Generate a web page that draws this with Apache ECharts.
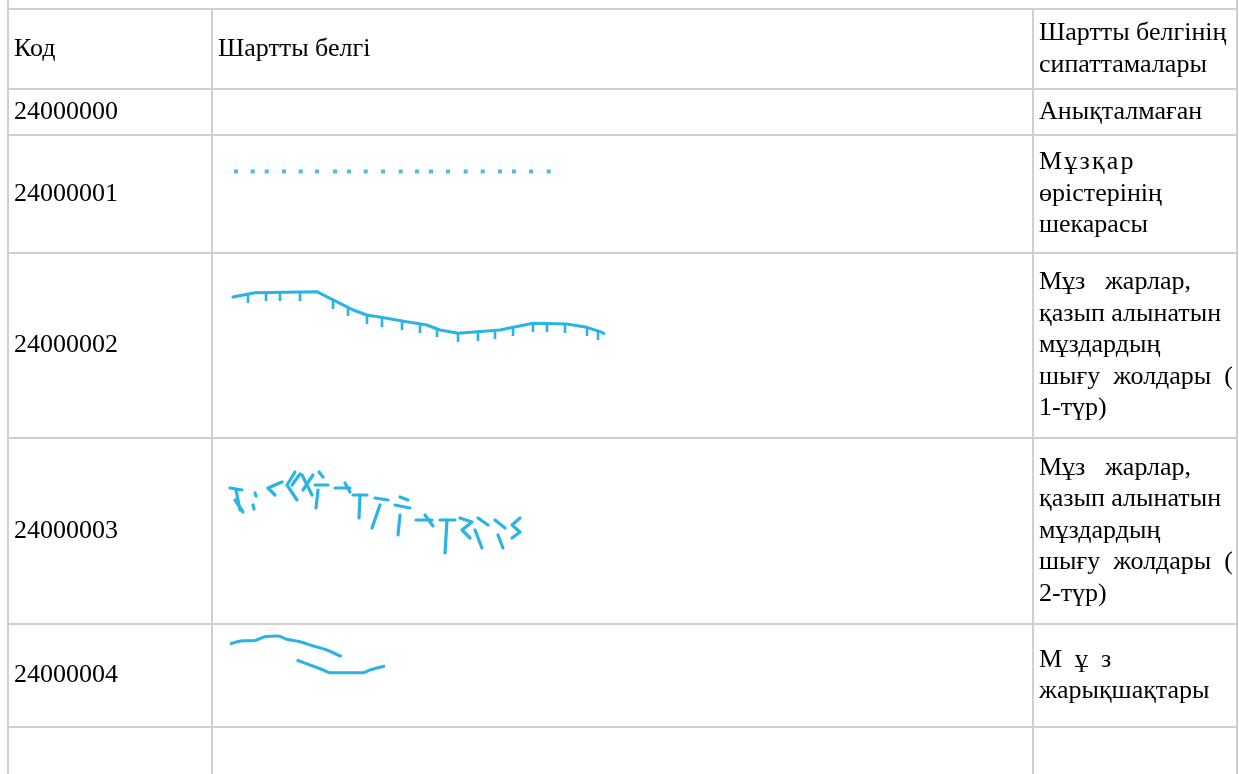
<!DOCTYPE html>
<html><head><meta charset="utf-8">
<script src="https://cdn.jsdelivr.net/npm/echarts@6/dist/echarts.min.js"></script>
<style>html,body{margin:0;padding:0;background:#fff;overflow:hidden}#c{width:1239px;height:774px}</style>
</head><body><div id="c"></div>
<script>
// ---- table content ----
const headers = ['Код', 'Шартты белгі', 'Шартты белгінің\nсипаттамалары'];
const codes = ['24000000', '24000001', '24000002', '24000003', '24000004', ''];
const descriptions = [
  'Анықталмаған',
  'М\u200Aұ\u200Aз\u200Aқ\u200Aа\u200Aр\nөрістерінің\nшекарасы',
  'Мұз   жарлар,\nқазып алынатын\nмұздардың\nшығу  жолдары  (\n1-түр)',
  'Мұз   жарлар,\nқазып алынатын\nмұздардың\nшығу  жолдары  (\n2-түр)',
  'М  ұ  з\nжарықшақтары',
  ''
];
// ---- symbol sketches ----
const iceFieldDots = [[236,171.5],[252.7,171.5],[266.7,171.5],[284,171.5],[300.7,171.5],[317,171.5],[335,171.5],[349,171.5],[365.7,171.5],[383,171.5],[400.7,171.5],[417,171.5],[431,171.5],[448,171.5],[465.7,171.5],[482.7,171.5],[500,171.5],[514,171.5],[531,171.5],[548.7,171.5]];
const cliff1Line = [[231.7,297.3],[243.3,295],[255,292.7],[316.7,291.7],[326.7,296.7],[340,303.3],[353.3,310],[366.7,315],[386.7,318.3],[406.7,321.7],[426.7,325],[440,330],[458.3,333.3],[476.7,331.7],[500,330],[513.3,327.3],[533.3,323.3],[566.7,324],[586.7,327.3],[600,331.7],[605,334]];
const cliff1Ticks = [[248,294],[266,292],[280,292],[300,292],[333,300],[348,307],[367,315],[382,318],[402,321],[420,324],[437,328],[458,333],[478,332],[495,330],[513,327],[533,323],[547,323],[565,324],[587,327],[598,331]];
const cliff2Strokes = [
  [[230,488],[242,490]],[[236,490],[240,510]],[[235,500],[243,512]],
  [[255,493],[256,496]],[[253,505],[254,509]],
  [[282,482],[268,488],[275,495]],
  [[295,472],[287,485],[297,500]],[[300,474],[292,485]],
  [[302,475],[312,495]],[[313,475],[303,490]],
  [[319,472],[323,477]],[[315,485],[328,485]],[[318,490],[316,508]],
  [[335,488],[350,488]],[[345,483],[350,492]],
  [[353,495],[367,495]],[[360,495],[359,518]],
  [[375,498],[388,500]],[[380,505],[372,528]],
  [[400,497],[408,500]],[[395,505],[410,508]],[[400,515],[398,535]],
  [[416,520],[432,520]],[[425,515],[433,526]],
  [[440,520],[455,520]],[[447,520],[445,553]],
  [[460,518],[472,522],[462,530],[470,538]],
  [[478,518],[488,525]],[[475,530],[482,548]],
  [[495,520],[505,528]],[[498,535],[503,548]],
  [[520,518],[512,525],[520,532],[512,538]]
];
const crackA = [[230,644],[243.3,640.7],[253.3,640.7],[265,636.7],[278.3,636],[286.7,639.3],[300,641.7],[313.3,646],[326.7,650],[341.7,656.7]];
const crackB = [[296.7,660],[310,665],[323.3,670],[330,672.7],[363.3,672.7],[370,670],[385,666]];

// ---- layout (page pixel scale) ----
const colEdges = [8, 212, 1033, 1237];
const rowEdges = [9, 89, 135, 253, 438, 624, 727, 800];
const FONT = '26px "Liberation Serif", "Times New Roman", serif';
const LH = 31.5;
const SYM = '#2ab4e3';

const chart = echarts.init(document.getElementById('c'), null, {renderer: 'canvas'});

// grid lines as segments
const segs = [];
for (let r = 0; r < rowEdges.length - 1; r++) segs.push([[colEdges[0], rowEdges[r]], [colEdges[3], rowEdges[r]]]);
segs.push([[colEdges[0], 0], [colEdges[0], 774]]);
segs.push([[colEdges[1], rowEdges[0]], [colEdges[1], 774]]);
segs.push([[colEdges[2], rowEdges[0]], [colEdges[2], 774]]);
segs.push([[colEdges[3], 0], [colEdges[3], 774]]);

// text cells
const cells = [];
const rowsText = [headers].concat(codes.map((c, i) => [c, '', descriptions[i]]));
rowsText.forEach((row, r) => {
  const yMid = (rowEdges[r] + rowEdges[r + 1]) / 2;
  [0, 1, 2].forEach(ci => {
    if (row[ci]) cells.push({x: colEdges[ci] + 6, y: yMid, text: row[ci]});
  });
});

chart.setOption({
  animation: false,
  grid: {left: 0, right: 0, top: 0, bottom: 0},
  xAxis: {type: 'value', min: 0, max: 1239, show: false},
  yAxis: {type: 'value', min: 0, max: 774, inverse: true, show: false},
  series: [
    {
      type: 'custom', silent: true, z: 1,
      data: segs.map((s, i) => [i]),
      renderItem: (p, api) => {
        const s = segs[p.dataIndex];
        const a = api.coord(s[0]), b = api.coord(s[1]);
        return {type: 'line', shape: {x1: a[0], y1: a[1], x2: b[0], y2: b[1]}, style: {stroke: '#cfcfcf', lineWidth: 2}};
      }
    },
    {
      type: 'custom', silent: true, z: 3,
      data: cells.map((c, i) => [i]),
      renderItem: (p, api) => {
        const c = cells[p.dataIndex];
        const pt = api.coord([c.x, c.y]);
        return {type: 'text', x: pt[0], y: pt[1], style: {text: c.text, font: FONT, fill: '#000', textAlign: 'left', textVerticalAlign: 'middle', lineHeight: LH}};
      }
    },
    {
      type: 'scatter', silent: true, data: iceFieldDots, symbol: 'rect', symbolSize: 4,
      itemStyle: {color: '#2aaecb'}
    },
    {
      type: 'line', silent: true, data: cliff1Line, symbol: 'none',
      lineStyle: {color: SYM, width: 3}
    },
    {
      type: 'custom', silent: true,
      data: cliff1Ticks.map((t, i) => [i]),
      renderItem: (p, api) => {
        const t = cliff1Ticks[p.dataIndex];
        const a = api.coord(t), b = api.coord([t[0], t[1] + 9]);
        return {type: 'line', shape: {x1: a[0], y1: a[1], x2: b[0], y2: b[1]}, style: {stroke: SYM, lineWidth: 2.6}};
      }
    },
    {
      type: 'custom', silent: true,
      data: cliff2Strokes.map((t, i) => [i]),
      renderItem: (p, api) => {
        const pts = cliff2Strokes[p.dataIndex].map(q => api.coord(q));
        return {type: 'polyline', shape: {points: pts}, style: {stroke: SYM, lineWidth: 3.2, fill: null, lineCap: 'round', lineJoin: 'round'}};
      }
    },
    {
      type: 'line', silent: true, data: crackA, symbol: 'none', smooth: 0.3,
      lineStyle: {color: SYM, width: 3}
    },
    {
      type: 'line', silent: true, data: crackB, symbol: 'none', smooth: 0.3,
      lineStyle: {color: SYM, width: 3}
    }
  ]
});
</script>
</body></html>
